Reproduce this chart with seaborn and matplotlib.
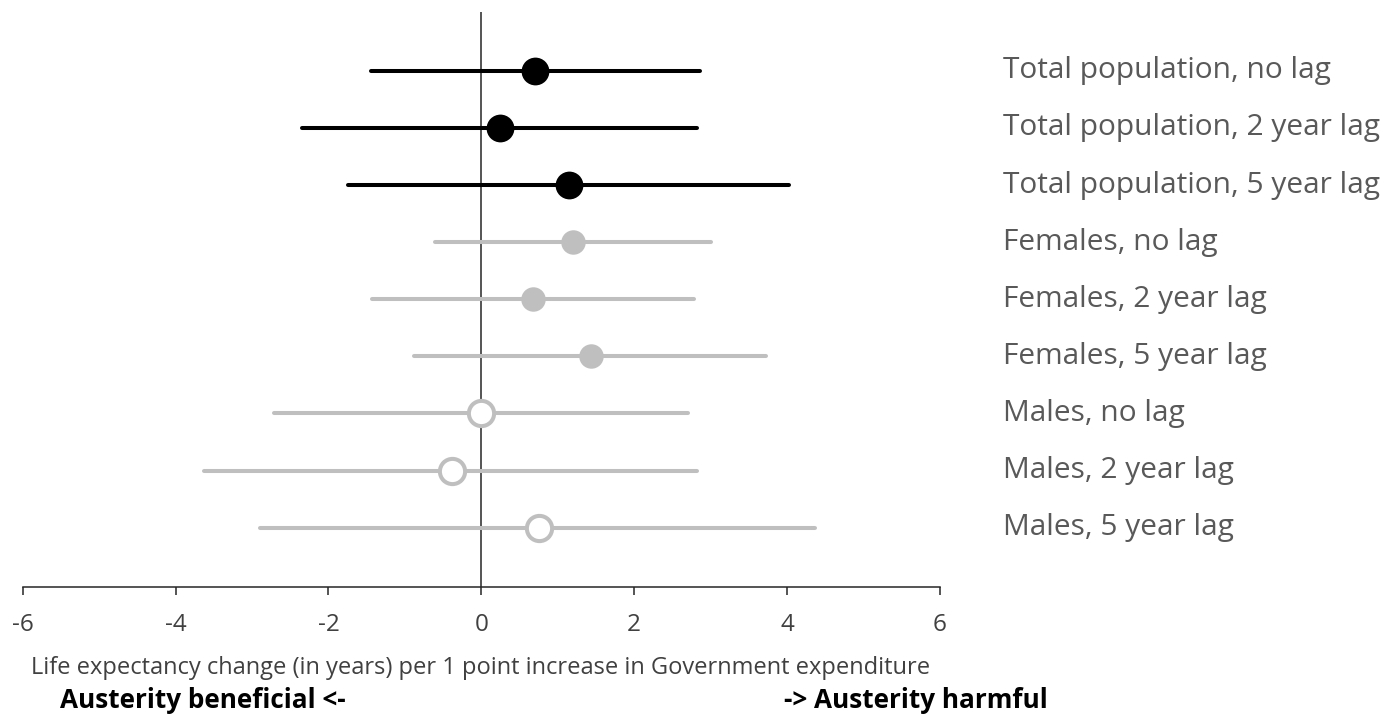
import matplotlib
matplotlib.use("Agg")
import matplotlib.pyplot as plt
import matplotlib.transforms as mtransforms
import seaborn as sns
import pandas as pd

# Estimates (years of life expectancy per 1 point of government expenditure)
labels = [
    "Total population, no lag",
    "Total population, 2 year lag",
    "Total population, 5 year lag",
    "Females, no lag",
    "Females, 2 year lag",
    "Females, 5 year lag",
    "Males, no lag",
    "Males, 2 year lag",
    "Males, 5 year lag",
]
groups = ["Total"] * 3 + ["Females"] * 3 + ["Males"] * 3
estimate = [0.70, 0.24, 1.15, 1.20, 0.67, 1.44, 0.00, -0.39, 0.75]
ci_low = [-1.45, -2.34, -1.74, -0.60, -1.43, -0.88, -2.71, -3.63, -2.89]
ci_high = [2.86, 2.82, 4.02, 3.00, 2.78, 3.73, 2.70, 2.82, 4.36]
x_ticks = [-6, -4, -2, 0, 2, 4, 6]

df = pd.DataFrame({
    "label": labels,
    "group": groups,
    "estimate": estimate,
    "low": ci_low,
    "high": ci_high,
})
df["row"] = range(len(df))

BLACK = "#000000"
GREY = "#bfbfbf"
TEXT_GREY = "#595959"
DARK = "#404040"

sns.set_theme(style="white")
plt.rcParams["font.family"] = ["Open Sans", "DejaVu Sans"]

fig = plt.figure(figsize=(13.92, 7.22), dpi=100)
ax = fig.add_axes([22.7 / 1392, 1 - 587 / 722, (940 - 22.7) / 1392, (587 - 12) / 722])

# reference line at zero
ax.axvline(0, color="#262626", lw=1.1, zorder=1)

# confidence intervals
line_colors = {"Total": BLACK, "Females": GREY, "Males": GREY}
for grp, sub in df.groupby("group", sort=False):
    lc = ax.hlines(sub["row"], sub["low"], sub["high"], colors=line_colors[grp],
                   lw=2.9, zorder=2)
    lc.set_capstyle("round")

# point estimates
sns.scatterplot(data=df[df.group == "Total"], x="estimate", y="row", ax=ax,
                color=BLACK, s=400, edgecolor=BLACK, linewidth=0, zorder=3,
                legend=False)
sns.scatterplot(data=df[df.group == "Females"], x="estimate", y="row", ax=ax,
                color=GREY, s=310, edgecolor=GREY, linewidth=0, zorder=3,
                legend=False)
sns.scatterplot(data=df[df.group == "Males"], x="estimate", y="row", ax=ax,
                color="white", s=330, edgecolor=GREY, linewidth=2.9, zorder=3,
                legend=False)

ax.set_xlim(-6, 6)
ax.set_ylim(9.04, -1.03)
ax.set_xticks(x_ticks)
ax.set_xticklabels([str(t) for t in x_ticks])
ax.set_yticks([])
ax.set_xlabel("")
ax.set_ylabel("")

for side in ["top", "right", "left"]:
    ax.spines[side].set_visible(False)
ax.spines["bottom"].set_color("#262626")
ax.spines["bottom"].set_linewidth(1.1)
ax.tick_params(axis="x", direction="out", length=5.8, width=1.1, color="#262626",
               pad=13, labelsize=17.5, labelcolor=DARK, bottom=True)

# series labels on the right
trans = mtransforms.blended_transform_factory(ax.transAxes, ax.transData)
for r, lab in zip(df["row"], df["label"]):
    ax.text(1.0687, r, lab, transform=trans, ha="left", va="center",
            fontsize=21.5, color=TEXT_GREY)

fig.text(481 / 1392, 1 - 668 / 722,
         "Life expectancy change (in years) per 1 point increase in Government expenditure",
         ha="center", va="center", fontsize=17, color=DARK)
fig.text(60 / 1392, 1 - 700 / 722, "Austerity beneficial <-", ha="left", va="center",
         fontsize=18.8, fontweight="bold", color=BLACK)
fig.text(1048 / 1392, 1 - 700 / 722, "-> Austerity harmful", ha="right", va="center",
         fontsize=18.8, fontweight="bold", color=BLACK)

fig.savefig("out.png", dpi=100, facecolor="white")
